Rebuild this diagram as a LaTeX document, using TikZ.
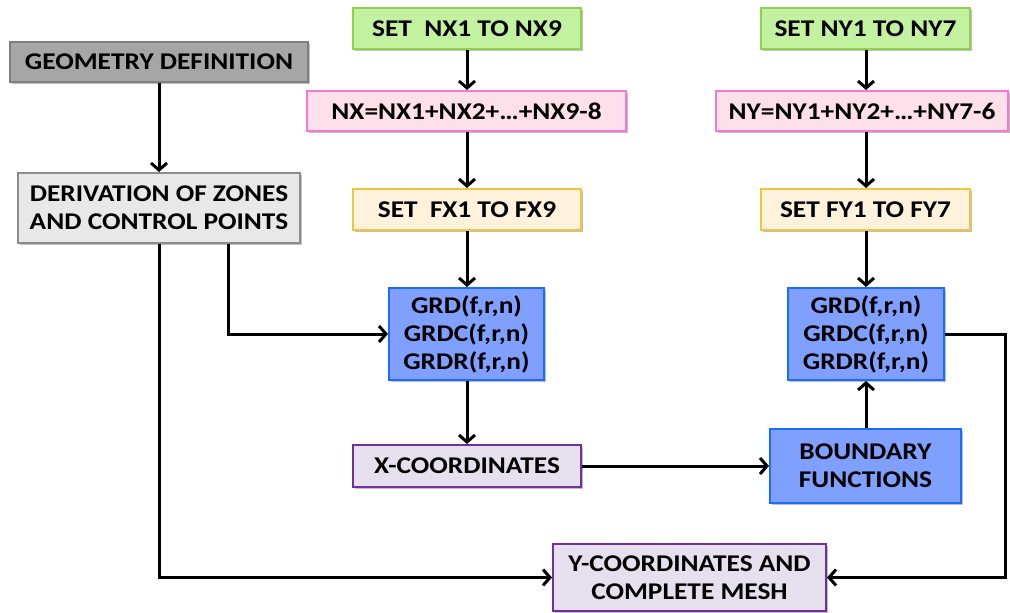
\documentclass[tikz,border=0pt]{standalone}
\usepackage{fontspec}
\setmainfont{Carlito}[FakeStretch=1.14]
\usetikzlibrary{arrows.meta,shadows}
\definecolor{geofill}{HTML}{A6A6A6}
\definecolor{geoline}{HTML}{7F7F7F}
\definecolor{derfill}{HTML}{E8E8E8}
\definecolor{derline}{HTML}{8C8C8C}
\definecolor{grnfill}{HTML}{C2F2A0}
\definecolor{grnline}{HTML}{92D050}
\definecolor{pnkfill}{HTML}{FDE0EA}
\definecolor{pnkline}{HTML}{F27AD0}
\definecolor{yelfill}{HTML}{FEF2DC}
\definecolor{yelline}{HTML}{F5C342}
\definecolor{bluefill}{HTML}{7FA0FF}
\definecolor{blueline}{HTML}{1A6CFF}
\definecolor{purfill}{HTML}{E6E0EE}
\definecolor{purline}{HTML}{7030A0}
\tikzset{
  box/.style={draw, line width=2pt, inner sep=0pt, align=center,
    font=\fontsize{24}{28}\selectfont\bfseries,
    drop shadow={shadow xshift=2pt, shadow yshift=-2pt, opacity=0.25, fill=black}},
  geobox/.style={box, fill=geofill, draw=geoline},
  derbox/.style={box, fill=derfill, draw=derline},
  grnbox/.style={box, fill=grnfill, draw=grnline},
  pnkbox/.style={box, fill=pnkfill, draw=pnkline},
  yelbox/.style={box, fill=yelfill, draw=yelline},
  bluebox/.style={box, fill=bluefill, draw=blueline},
  purbox/.style={box, fill=purfill, draw=purline},
  conn/.style={line width=3pt, -{Straight Barb[length=7pt,width=16pt,line width=3pt]}}
}
\begin{document}
\begin{tikzpicture}[x=1pt,y=-1pt]
\useasboundingbox (0,0) rectangle (1010,613);
% left column
\node[geobox, minimum width=298, minimum height=40] (geo) at (159,62) {GEOMETRY DEFINITION};
\node[derbox, minimum width=282, minimum height=70] (der) at (159,208) {DERIVATION OF ZONES\\AND CONTROL POINTS};
% x column
\node[grnbox, minimum width=228, minimum height=41] (nx) at (467,28.5) {SET\ \ NX1 TO NX9};
\node[pnkbox, minimum width=319, minimum height=40] (nxs) at (466.5,111) {NX=NX1+NX2+…+NX9-8};
\node[yelbox, minimum width=228, minimum height=41] (fx) at (467,209.5) {SET\ \ FX1 TO FX9};
\node[bluebox, minimum width=155, minimum height=92] (grdx) at (466.5,334) {GRD(f,r,n)\\GRDC(f,r,n)\\GRDR(f,r,n)};
\node[purbox, minimum width=228, minimum height=42] (xc) at (467,466) {X-COORDINATES};
% y column
\node[grnbox, minimum width=209, minimum height=41] (ny) at (865.5,28.5) {SET NY1 TO NY7};
\node[pnkbox, minimum width=292, minimum height=40] (nys) at (862,111) {NY=NY1+NY2+…+NY7-6};
\node[yelbox, minimum width=209, minimum height=41] (fy) at (865.5,209.5) {SET FY1 TO FY7};
\node[bluebox, minimum width=156, minimum height=92] (grdy) at (866,334) {GRD(f,r,n)\\GRDC(f,r,n)\\GRDR(f,r,n)};
\node[bluebox, minimum width=191, minimum height=74] (bnd) at (865.5,466) {BOUNDARY\\FUNCTIONS};
\node[purbox, minimum width=273, minimum height=67] (yc) at (689.5,577.5) {Y-COORDINATES AND\\COMPLETE MESH};
\coordinate (rt) at (1005,0);
\coordinate (dv) at (228,0);
% connectors
\draw[conn] (geo) -- (der);
\draw[conn] (nx.south) -- (nx.south |- nxs.north);
\draw[conn] (nxs.south -| nx.south) -- (fx.north);
\draw[conn] (fx.south) -- (fx.south |- grdx.north);
\draw[conn] (grdx.south -| fx.south) -- (xc.north);
\draw[conn] (ny.south -| grdy.south) -- (grdy.south |- nys.north);
\draw[conn] (nys.south -| grdy.south) -- (grdy.south |- fy.north);
\draw[conn] (fy.south -| grdy.south) -- (grdy.north);
\draw[conn] (bnd.north -| grdy.south) -- (grdy.south);
\draw[conn] (xc.east) -- (bnd.west);
\draw[conn] (der.south -| dv) |- (grdx.west);
\draw[conn] (der.south) |- (yc.west);
\draw[conn] (grdy.east) -- (grdy.east -| rt) |- (yc.east);
\end{tikzpicture}
\end{document}
